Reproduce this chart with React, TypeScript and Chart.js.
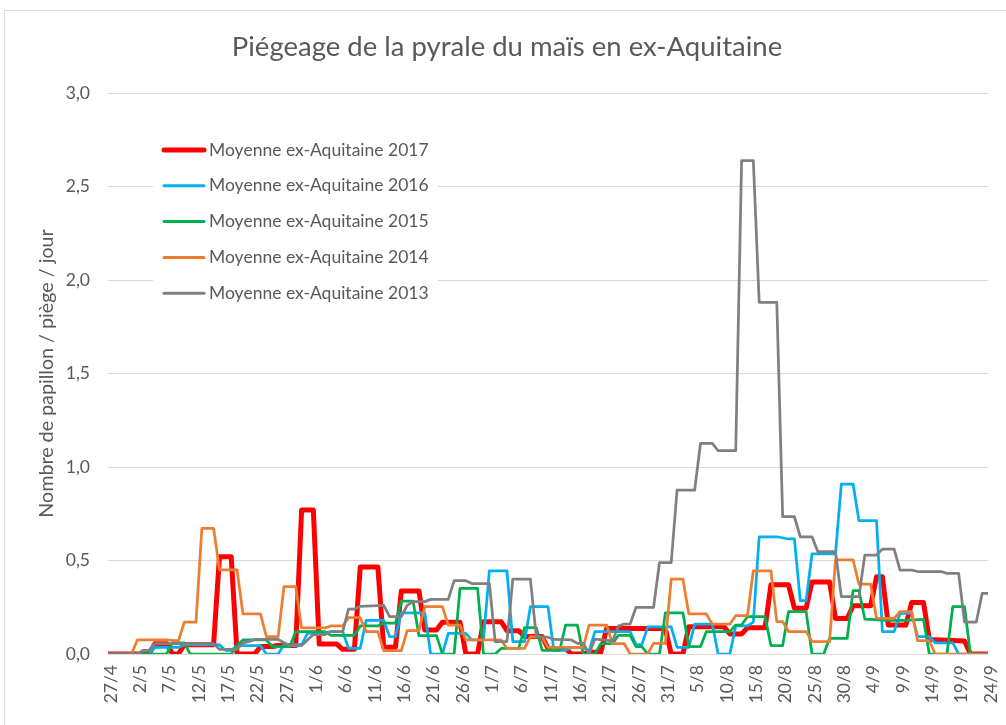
import React, { useEffect, useRef } from 'react';
import { Chart, registerables } from 'chart.js';

Chart.register(...registerables);

const TITLE = 'Piégeage de la pyrale du maïs en ex-Aquitaine';
const Y_TITLE = 'Nombre de papillon / piège / jour';

// x = day index counted from 27/4 (one tick label every 5 days)
const X_TICK_LABELS = [
  '27/4', '2/5', '7/5', '12/5', '17/5', '22/5', '27/5', '1/6', '6/6', '11/6', '16/6',
  '21/6', '26/6', '1/7', '6/7', '11/7', '16/7', '21/7', '26/7', '31/7', '5/8',
  '10/8', '15/8', '20/8', '25/8', '30/8', '4/9', '9/9', '14/9', '19/9', '24/9',
];
const Y_TICK_LABELS = ['0,0', '0,5', '1,0', '1,5', '2,0', '2,5', '3,0'];

const SERIES_NAMES = [
  'Moyenne ex-Aquitaine 2017',
  'Moyenne ex-Aquitaine 2016',
  'Moyenne ex-Aquitaine 2015',
  'Moyenne ex-Aquitaine 2014',
  'Moyenne ex-Aquitaine 2013',
];

// [day, value] readings (value held between readings)
const Y2017: [number, number][] = [
  [0, 0], [7, 0], [8, 0.055], [10, 0.055], [11, 0], [12, 0], [13, 0.05], [18, 0.05], [19, 0.52], [21, 0.52],
  [22, 0], [25, 0], [26, 0.04], [28, 0.04], [29, 0.045], [32, 0.045], [33, 0.77], [35, 0.77], [36, 0.053], [39, 0.053],
  [40, 0.025], [42, 0.025], [43, 0.465], [46, 0.465], [47, 0.036], [49, 0.036], [50, 0.337], [53, 0.337], [54, 0.128],
  [56, 0.128], [57, 0.17], [60, 0.17], [61, 0], [63, 0], [64, 0.173], [67, 0.173], [68, 0.125], [70, 0.125], [71, 0.093],
  [74, 0.093], [75, 0.03], [78, 0.03], [79, 0], [81, 0], [82, 0.01], [84, 0.01], [85, 0.137], [95, 0.137], [96, 0],
  [98, 0], [99, 0.146], [105, 0.146], [106, 0.107], [108, 0.107], [109, 0.14], [112, 0.14], [113, 0.37], [116, 0.37],
  [117, 0.245], [119, 0.245], [120, 0.385], [123, 0.385], [124, 0.19], [126, 0.19], [127, 0.258], [130, 0.258],
  [131, 0.413], [132, 0.413], [133, 0.155], [136, 0.155], [137, 0.276], [139, 0.276], [140, 0.078], [146, 0.07],
  [147, 0], [150, 0],
];
const Y2016: [number, number][] = [
  [0, 0], [7, 0], [8, 0.035], [12, 0.035], [13, 0.05], [19, 0.05], [20, 0.02], [21, 0.02], [22, 0.045], [26, 0.045],
  [27, 0], [29, 0], [30, 0.05], [33, 0.05], [34, 0.11], [37, 0.11], [38, 0.12], [40, 0.12], [41, 0.03], [43, 0.03],
  [44, 0.18], [47, 0.18], [48, 0.093], [49, 0.093], [50, 0.22], [54, 0.22], [55, 0], [57, 0], [58, 0.11], [61, 0.11],
  [62, 0.075], [64, 0.075], [65, 0.444], [68, 0.444], [69, 0.066], [71, 0.066], [72, 0.253], [75, 0.253], [76, 0.02],
  [78, 0.02], [79, 0.035], [81, 0.035], [82, 0.015], [83, 0.12], [89, 0.12], [90, 0.05], [91, 0.05], [92, 0.145],
  [96, 0.145], [97, 0.035], [99, 0.035], [100, 0.16], [103, 0.16], [104, 0], [106, 0], [107, 0.15], [109, 0.15],
  [110, 0.17], [111, 0.627], [114, 0.627], [116, 0.615], [117, 0.615], [118, 0.285], [119, 0.285], [120, 0.535],
  [124, 0.535], [125, 0.909], [127, 0.909], [128, 0.713], [131, 0.713], [132, 0.12], [134, 0.12], [135, 0.217],
  [137, 0.217], [138, 0.093], [140, 0.093], [141, 0.06], [144, 0.06], [145, 0], [150, 0],
];
const Y2015: [number, number][] = [
  [0, 0], [10, 0], [11, 0.06], [13, 0.06], [14, 0], [21, 0], [22, 0.045], [23, 0.075], [27, 0.075], [28, 0.04],
  [31, 0.04], [32, 0.12], [37, 0.12], [38, 0.1], [42, 0.1], [43, 0.15], [46, 0.15], [47, 0.165], [49, 0.165],
  [50, 0.283], [52, 0.283], [53, 0.098], [56, 0.098], [57, 0], [59, 0], [60, 0.351], [63, 0.351], [64, 0], [66, 0],
  [67, 0.03], [70, 0.03], [71, 0.141], [73, 0.141], [74, 0.02], [77, 0.02], [78, 0.155], [80, 0.155], [81, 0], [83, 0],
  [84, 0.055], [86, 0.055], [87, 0.1], [89, 0.1], [90, 0.04], [91, 0.04], [92, 0], [94, 0], [95, 0.22], [98, 0.22],
  [99, 0.04], [101, 0.04], [102, 0.12], [106, 0.12], [107, 0.155], [108, 0.155], [109, 0.2], [112, 0.2], [113, 0.045],
  [115, 0.045], [116, 0.226], [119, 0.226], [120, 0], [122, 0], [123, 0.084], [126, 0.084], [127, 0.339], [128, 0.339],
  [129, 0.187], [133, 0.18], [136, 0.18], [139, 0.185], [140, 0], [143, 0], [144, 0.253], [146, 0.253], [147, 0],
  [150, 0],
];
const Y2014: [number, number][] = [
  [0, 0], [4, 0], [5, 0.075], [10, 0.075], [12, 0.07], [13, 0.17], [15, 0.17], [16, 0.672], [18, 0.672], [19, 0.45],
  [22, 0.45], [23, 0.214], [26, 0.214], [27, 0.093], [29, 0.093], [30, 0.36], [32, 0.36], [33, 0.14], [37, 0.14],
  [38, 0.15], [40, 0.15], [41, 0.194], [43, 0.194], [44, 0.12], [46, 0.12], [47, 0.018], [50, 0.018], [51, 0.125],
  [53, 0.125], [54, 0.253], [57, 0.253], [58, 0.155], [60, 0.155], [61, 0.075], [67, 0.075], [68, 0.03], [71, 0.03],
  [72, 0.093], [74, 0.09], [75, 0.035], [81, 0.035], [82, 0.155], [85, 0.155], [86, 0.055], [88, 0.055], [89, 0],
  [92, 0], [93, 0.057], [95, 0.057], [96, 0.4], [98, 0.4], [99, 0.214], [102, 0.214], [103, 0.16], [106, 0.16],
  [107, 0.205], [109, 0.205], [110, 0.445], [113, 0.445], [114, 0.173], [115, 0.173], [116, 0.12], [119, 0.12],
  [120, 0.066], [123, 0.066], [124, 0.503], [127, 0.503], [128, 0.373], [130, 0.373], [131, 0.19], [134, 0.19],
  [135, 0.226], [137, 0.226], [138, 0.071], [140, 0.071], [141, 0], [150, 0],
];
const Y2013: [number, number][] = [
  [0, 0], [5, 0], [6, 0.02], [7, 0.02], [8, 0.055], [18, 0.055], [19, 0.025], [22, 0.025], [23, 0.06], [24, 0.066],
  [25, 0.078], [29, 0.078], [30, 0.06], [31, 0.045], [33, 0.045], [34, 0.075], [35, 0.104], [37, 0.104], [38, 0.12],
  [40, 0.12], [41, 0.24], [42, 0.24], [43, 0.255], [47, 0.26], [48, 0.2], [50, 0.2], [51, 0.26], [52, 0.28], [54, 0.28],
  [55, 0.292], [58, 0.292], [59, 0.392], [61, 0.392], [62, 0.377], [65, 0.377], [66, 0.066], [68, 0.066], [69, 0.4],
  [72, 0.4], [73, 0.093], [75, 0.09], [76, 0.078], [79, 0.075], [80, 0.057], [81, 0.057], [82, 0], [83, 0.08],
  [86, 0.07], [87, 0.15], [88, 0.16], [89, 0.16], [90, 0.25], [93, 0.25], [94, 0.488], [96, 0.488], [97, 0.877],
  [100, 0.877], [101, 1.127], [103, 1.127], [104, 1.087], [107, 1.087], [108, 2.638], [110, 2.638], [111, 1.881],
  [114, 1.881], [115, 0.734], [117, 0.734], [118, 0.627], [120, 0.627], [121, 0.547], [124, 0.547], [125, 0.307],
  [128, 0.307], [129, 0.529], [131, 0.529], [132, 0.561], [134, 0.561], [135, 0.449], [137, 0.449], [138, 0.441],
  [142, 0.441], [143, 0.431], [145, 0.431], [146, 0.17], [148, 0.17], [149, 0.324], [150, 0.324],
];

const SERIES_DATA = [Y2017, Y2016, Y2015, Y2014, Y2013];
const SERIES_COLORS = ['#FF0000', '#00B0F0', '#00B050', '#ED7D31', '#808080'];
const SERIES_WIDTHS = [5, 2.75, 2.75, 2.75, 2.75];

const FONT = 'Lato, "Open Sans", sans-serif';
const TEXT_COLOR = '#595959';
const GRID_COLOR = '#D9D9D9';

const framePlugin = {
  id: 'frame',
  beforeDraw(chart: any) {
    const { ctx, width, height } = chart;
    ctx.save();
    ctx.fillStyle = '#FFFFFF';
    ctx.fillRect(0, 0, width, height);
    ctx.strokeStyle = GRID_COLOR;
    ctx.lineWidth = 1;
    ctx.strokeRect(4.5, 10.5, width + 40, height + 40);
    ctx.fillStyle = TEXT_COLOR;
    ctx.font = `27.5px ${FONT}`;
    ctx.textAlign = 'center';
    ctx.textBaseline = 'middle';
    ctx.fillText(TITLE, width / 2 + 4, 47);
    ctx.restore();
  },
};

const boxLegendPlugin = {
  id: 'boxLegend',
  afterDatasetsDraw(chart: any) {
    const { ctx, chartArea } = chart;
    const left = chartArea.left + 45;
    const top = chartArea.top + 35;
    const rowH = 35.8;
    ctx.save();
    ctx.fillStyle = '#FFFFFF';
    ctx.fillRect(left, top, 285, rowH * 5 + 6);
    SERIES_NAMES.forEach((name, i) => {
      const y = top + 22 + i * rowH;
      ctx.strokeStyle = SERIES_COLORS[i];
      ctx.lineWidth = i === 0 ? 5 : 3;
      ctx.lineCap = 'round';
      ctx.beginPath();
      ctx.moveTo(left + 11, y);
      ctx.lineTo(left + 51, y);
      ctx.stroke();
      ctx.fillStyle = TEXT_COLOR;
      ctx.font = `17.5px ${FONT}`;
      ctx.textAlign = 'left';
      ctx.textBaseline = 'middle';
      ctx.fillText(name, left + 56, y);
    });
    ctx.restore();
  },
};

export default function App() {
  const canvasRef = useRef<HTMLCanvasElement | null>(null);

  useEffect(() => {
    const canvas = canvasRef.current;
    if (!canvas) return;
    const chart = new Chart(canvas, {
      type: 'line',
      data: {
        datasets: SERIES_DATA.map((pairs, i) => ({
          label: SERIES_NAMES[i],
          data: pairs.map(([x, y]) => ({ x, y })),
          borderColor: SERIES_COLORS[i],
          backgroundColor: SERIES_COLORS[i],
          borderWidth: SERIES_WIDTHS[i],
          pointRadius: 0,
          pointHoverRadius: 0,
          tension: 0,
          fill: false,
          borderJoinStyle: 'round',
          borderCapStyle: 'round',
          order: SERIES_DATA.length - i,
        })),
      },
      options: {
        responsive: false,
        animation: false,
        devicePixelRatio: 1,
        events: [],
        layout: { padding: { left: 0, right: 18, top: 93, bottom: 0 } },
        plugins: {
          legend: { display: false },
          tooltip: { enabled: false },
          title: { display: false },
        },
        scales: {
          x: {
            type: 'linear',
            min: 0,
            max: 150,
            grid: { display: false, drawTicks: false },
            border: { display: false },
            ticks: {
              stepSize: 5,
              autoSkip: false,
              maxRotation: 90,
              minRotation: 90,
              padding: 11,
              labelOffset: 3,
              color: TEXT_COLOR,
              font: { family: FONT, size: 17.5 },
              callback: (_v: any, index: number) => X_TICK_LABELS[index],
            },
            afterFit: (scale: any) => {
              scale.height = 71;
              scale.paddingLeft = 0;
              scale.paddingRight = 0;
            },
          },
          y: {
            min: 0,
            max: 3,
            grid: { color: GRID_COLOR, lineWidth: 1, drawTicks: false },
            border: { display: false },
            ticks: {
              stepSize: 0.5,
              padding: 18,
              color: TEXT_COLOR,
              font: { family: FONT, size: 17.5 },
              callback: (_v: any, index: number) => Y_TICK_LABELS[index],
            },
            title: {
              display: true,
              text: Y_TITLE,
              color: TEXT_COLOR,
              font: { family: FONT, size: 19.7, weight: 'normal', lineHeight: 1.2 },
              padding: { top: 35.2, bottom: 0 },
            },
            afterFit: (scale: any) => {
              scale.width = 108;
              scale.paddingTop = 0;
              scale.paddingBottom = 0;
            },
          },
        },
      },
      plugins: [framePlugin, boxLegendPlugin],
    } as any);
    return () => chart.destroy();
  }, []);

  return (
    <div style={{ width: 1006, height: 725, position: 'relative' }}>
      <style>{'body{margin:0;}'}</style>
      <canvas ref={canvasRef} width={1006} height={725} style={{ display: 'block' }} />
    </div>
  );
}
